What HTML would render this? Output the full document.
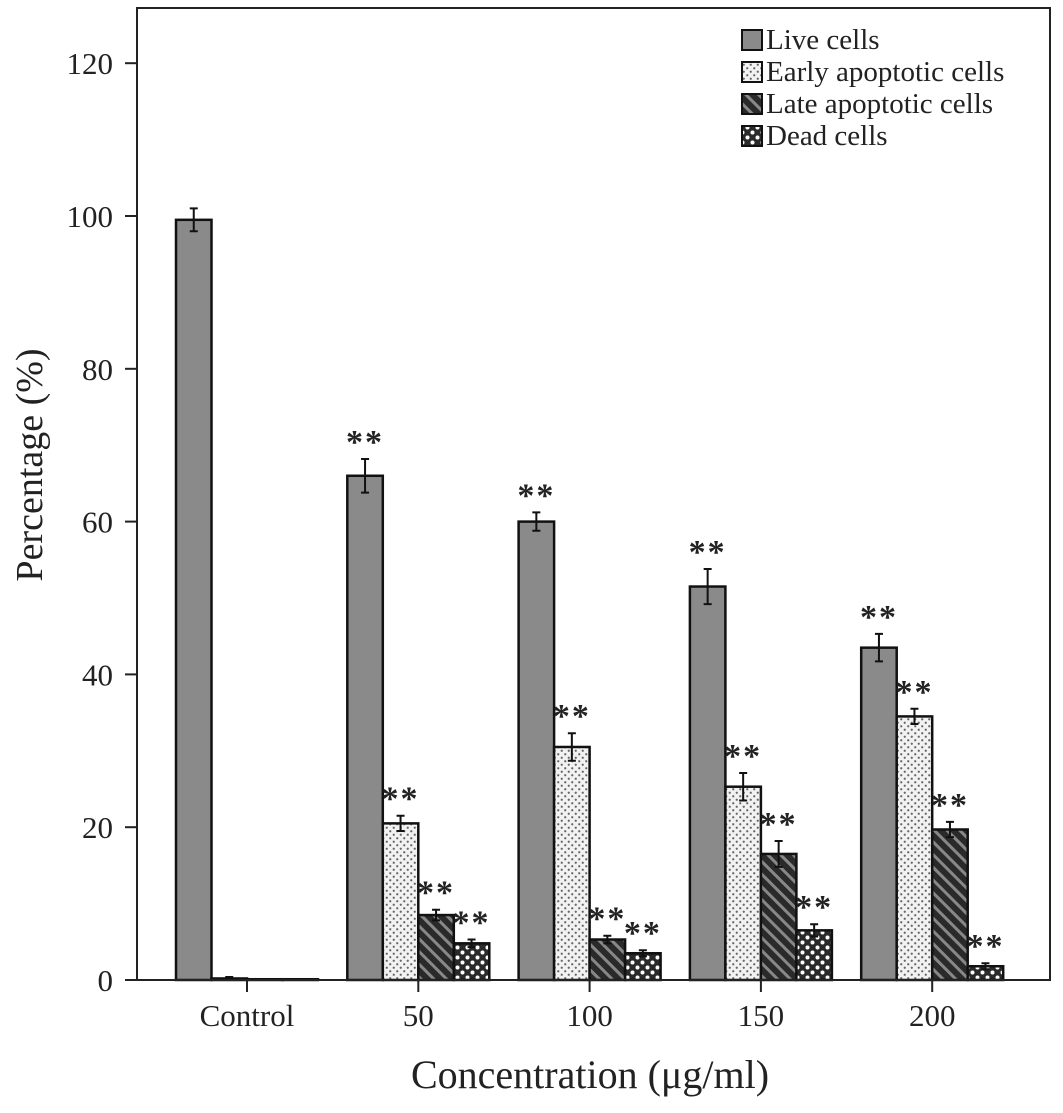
<!DOCTYPE html>
<html><head><meta charset="utf-8"><style>
body{margin:0;background:#fff}
svg text{font-family:"Liberation Serif",serif;fill:#222}
</style></head><body>
<svg id="chart" width="1063" height="1108" xmlns="http://www.w3.org/2000/svg">
<defs>
<pattern id="pEarly" width="7" height="7" patternUnits="userSpaceOnUse"><rect width="7" height="7" fill="#f2f2f2"/><circle cx="1.75" cy="1.75" r="1.1" fill="#666"/><circle cx="5.25" cy="5.25" r="1.1" fill="#666"/></pattern>
<pattern id="pLate" width="9" height="9" patternUnits="userSpaceOnUse" patternTransform="rotate(-45)"><rect width="9" height="9" fill="#2a2a2a"/><rect width="3" height="9" fill="#888"/></pattern>
<pattern id="pDead" width="10" height="10" patternUnits="userSpaceOnUse"><rect width="10" height="10" fill="#2a2a2a"/><circle cx="2.5" cy="2.5" r="2" fill="#fff"/><circle cx="7.5" cy="7.5" r="2" fill="#fff"/></pattern>
</defs>
<g id="plot"></g>
</svg>
<script>
const categories=["Control","50","100","150","200"];
const liveVals=[99.5,66,60,51.5,43.5];
const liveErr=[1.5,2.2,1.2,2.3,1.8];
const earlyVals=[0.2,20.5,30.5,25.3,34.5];
const earlyErr=[0.2,1,1.8,1.8,1];
const lateVals=[0.1,8.5,5.3,16.5,19.7];
const lateErr=[0,0.7,0.5,1.7,1];
const deadVals=[0.1,4.8,3.5,6.5,1.8];
const deadErr=[0,0.5,0.4,0.8,0.4];
const yTicks=[0,20,40,60,80,100,120];
const legendLabels=["Live cells","Early apoptotic cells","Late apoptotic cells","Dead cells"];

const NS="http://www.w3.org/2000/svg";
const g=document.getElementById('plot');
const L=137,R=1050,T=8,B=980;
const y=v=>B-v*7.64;
const x=i=>247+i*171.3;
const bw=35.5;
function mk(t,a,txt){const e=document.createElementNS(NS,t);for(const k in a)e.setAttribute(k,a[k]);if(txt!==undefined)e.textContent=txt;g.appendChild(e);return e;}

const series=[
 {v:liveVals,e:liveErr,fill:"#8a8a8a",name:"live"},
 {v:earlyVals,e:earlyErr,fill:"url(#pEarly)",name:"early"},
 {v:lateVals,e:lateErr,fill:"url(#pLate)",name:"late"},
 {v:deadVals,e:deadErr,fill:"url(#pDead)",name:"dead"}];

series.forEach((s,si)=>{
 s.v.forEach((v,i)=>{
  const bx=x(i)-2*bw+si*bw;
  const r=mk('rect',{x:bx,y:y(v),width:bw,height:B-y(v),fill:s.fill,stroke:"#111","stroke-width":2.5});
  
  
  const cx=bx+bw/2, e=s.e[i];
  if(e>0){
   const eb=mk('path',{d:`M${cx},${y(v+e)}V${y(v-e)}M${cx-4},${y(v+e)}h8M${cx-4},${y(v-e)}h8`,stroke:"#111","stroke-width":2,fill:"none"});
   
   
  }
  if(i>0){
   const st=mk('text',{x:cx,y:y(v+e)-6,"text-anchor":"middle","font-size":34,"font-weight":"bold","letter-spacing":"2"},"**");
   
   
  }
 });
});

const fr=mk('rect',{x:L,y:T,width:R-L,height:B-T,fill:"none",stroke:"#222","stroke-width":2});


yTicks.forEach(t=>{
 const tk=mk('line',{x1:L-12,x2:L,y1:y(t),y2:y(t),stroke:"#222","stroke-width":2});
 
 const tl=mk('text',{x:L-24,y:y(t)+11,"text-anchor":"end","font-size":31},t);
 
});
categories.forEach((c,i)=>{
 const tk=mk('line',{x1:x(i),x2:x(i),y1:B,y2:B+12,stroke:"#222","stroke-width":2});
 
 const tl=mk('text',{x:x(i),y:B+46,"text-anchor":"middle","font-size":31},c);
 
});
const xt=mk('text',{x:590,y:1088,"text-anchor":"middle","font-size":40},"Concentration (μg/ml)");

const yt=mk('text',{x:0,y:0,"text-anchor":"middle","font-size":38,transform:"translate(42,465) rotate(-90)"},"Percentage (%)");


legendLabels.forEach((l,i)=>{
 const ly=28+i*32;
 const sw=mk('rect',{x:742,y:ly+2,width:20,height:20,fill:series[i].fill,stroke:"#111","stroke-width":2});
 
 const lt=mk('text',{x:766,y:ly+21,"font-size":29},l);
 
});
</script>
</body></html>
